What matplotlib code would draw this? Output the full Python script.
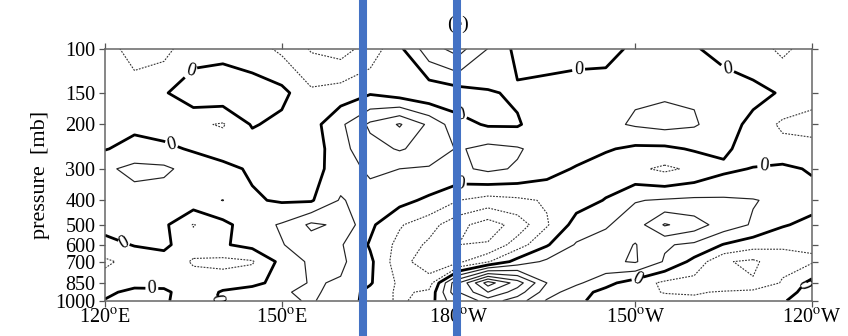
import numpy as np
import matplotlib
matplotlib.use("Agg")
import matplotlib.pyplot as plt

plt.rcParams['font.family'] = ['Liberation Serif', 'DejaVu Serif']
plt.rcParams['mathtext.fontset'] = 'stix'

# Grid: longitude (degrees east, 120E..120W) and pressure levels (mb)
lons = [120, 125, 130, 135, 140, 145, 150, 155, 160, 165, 170, 175, 180,
        185, 190, 195, 200, 205, 210, 215, 220, 225, 230, 235, 240]
levels_mb = [100, 150, 200, 250, 300, 400, 500, 600, 700, 850, 925, 1000]

# Field values (in contour-interval units) at each pressure level
f100 = [-0.6, -1.4, -1.3, -0.4, -0.3, -0.6, -1.2, -2.1, -2.4, -1.6, -0.2, 1.6, 2.4,
        1.0, -0.3, -0.6, -0.6, -0.5, 0.3, 0.6, 0.1, -0.4, -0.6, -1.2, -0.6]
f150 = [-0.5, -0.5, -0.1, 0.6, 0.7, 0.6, 0.3, -0.8, -0.5, -0.1, -0.5, -0.8, -0.5,
        -0.1, 0.15, 0.5, 0.8, 0.8, 0.9, 0.9, 0.9, 0.7, 0.3, -0.1, -0.7]
f200 = [-0.4, -0.2, -0.4, -0.8, -1.1, 0.1, -0.3, -0.4, 0.8, 2.2, 3.1, 1.8, 0.3,
        -0.1, -0.1, 0.6, 0.7, 0.8, 1.1, 1.3, 1.1, 0.5, -0.3, -1.2, -1.3]
f250 = [-0.05, 0.3, 0.2, -0.1, -0.3, -0.6, -0.7, -0.6, 0.7, 1.6, 2.1, 1.6, 0.9,
        1.3, 1.1, 0.6, 0.5, 0.1, -0.2, -0.2, 0.1, 0.2, -0.5, -0.6, -0.7]
f300 = [0.8, 1.3, 1.2, 0.6, 0.2, -0.1, -0.6, -0.4, 0.5, 1.2, 1.0, 0.9, 0.8,
        1.2, 0.9, 0.4, -0.1, -0.5, -0.8, -1.2, -0.8, -0.2, 0.05, 0.2, -0.1]
f400 = [0.6, 0.5, 0.4, 0.6, 1.02, 0.1, -0.1, -0.1, 1.1, 0.5, 0.3, -0.2, -1.0,
        -1.4, -1.2, -0.9, -0.4, 0.05, 0.95, 1.1, 1.2, 1.15, 1.05, 0.8, 0.4]
f500 = [0.3, 0.4, 0.2, -1.05, -0.3, 0.6, 1.1, 2.2, 1.8, 0.2, -0.9, -1.6, -2.7,
        -3.5, -2.6, -1.1, 0.4, 0.9, 1.5, 3.1, 2.5, 1.5, 0.9, 0.1, -0.3]
f600 = [-0.3, 0.05, 0.2, -0.6, -0.1, 0.3, 0.95, 1.5, 1.1, -0.1, -1.3, -2.2, -3.0,
        -2.9, -1.5, -0.1, 1.1, 1.4, 2.05, 1.1, 0.8, -0.05, -0.6, -0.9, -0.9]
f700 = [-1.2, -0.6, -0.4, -1.1, -1.3, -1.1, 0.3, 1.2, 1.2, 0.2, -1.6, -2.6, -2.2,
        -1.1, 0.4, 1.2, 1.4, 1.8, 2.1, 0.9, -0.3, -1.9, -2.2, -1.3, -1.1]
f850 = [-0.5, -0.3, -0.3, -0.6, -0.4, -0.3, 0.4, 1.1, 0.9, 0.1, -1.2, -1.5, 3.0,
        6.5, 4.5, 2.0, 1.2, 0.3, -0.5, -1.2, -1.4, -1.8, -1.9, -0.9, 0.3]
f925 = [-0.2, 0.25, 0.2, -0.6, 0.1, 0.5, 0.9, 1.2, 0.6, -0.3, -1.2, -0.8, 3.0,
        5.0, 3.5, 1.5, 0.4, -0.3, -0.7, -1.05, -1.1, -0.9, -0.7, -0.4, 0.4]
f1000 = [0.05, 0.5, 0.15, -0.6, 0.2, 0.6, 0.8, 1.1, 0.5, -0.3, -1.2, -0.5, 2.0,
         3.5, 2.5, 0.9, 0.2, -0.4, -0.6, -0.7, -0.8, -0.7, -0.5, -0.1, 0.6]

field = np.array([f100, f150, f200, f250, f300, f400, f500, f600, f700,
                  f850, f925, f1000])

# Axis annotation
xtick_vals = [120, 150, 180, 210, 240]
xtick_labels = [r'120$^{\mathrm{o}}$E', r'150$^{\mathrm{o}}$E', r'180$^{\mathrm{o}}$W',
                r'150$^{\mathrm{o}}$W', r'120$^{\mathrm{o}}$W']
ytick_vals = [100, 150, 200, 300, 400, 500, 600, 700, 850, 1000]
ytick_labels = [str(v) for v in ytick_vals]

# Longitudes of the two highlighted meridians
marker_lons = [163.8, 179.8]

# Where the zero contours carry their "0" labels (lon, mb)
zero_label_pos = [(123.4, 581), (131.4, 229), (134.7, 131), (127.9, 922),
                  (137.3, 975), (180.3, 186), (180.3, 343), (200.4, 132),
                  (225.7, 117), (231.8, 289), (210.5, 822), (237.4, 855)]

fig = plt.figure(figsize=(8.48, 3.36), dpi=100)
ax = fig.add_axes([105 / 848, (336 - 300.7) / 336, (812 - 105) / 848, (300.7 - 48.5) / 336])

LON, P = np.meshgrid(lons, levels_mb)

ax.contour(LON, P, field, levels=[-4, -3, -2, -1], colors='#333333',
           linewidths=0.8, linestyles=[(0, (1.6, 1.2))])
ax.contour(LON, P, field, levels=[1, 2, 3, 4, 5, 6, 7], colors='#222222',
           linewidths=0.85, linestyles='solid')
cz = ax.contour(LON, P, field, levels=[0], colors='black',
                linewidths=2.0, linestyles='solid')
ax.clabel(cz, fmt={0: '0'}, fontsize=13, inline=True, inline_spacing=2,
          manual=zero_label_pos)

ax.set_yscale('log')
ax.set_ylim(1000, 100)
ax.set_xlim(120, 240)
ax.set_yticks(ytick_vals)
ax.set_yticklabels(ytick_labels)
ax.yaxis.set_minor_locator(matplotlib.ticker.NullLocator())
ax.set_xticks(xtick_vals)
ax.set_xticklabels(xtick_labels)

ax.tick_params(axis='both', which='major', direction='out', length=4, width=0.9,
               color='#555555', labelsize=14.5, top=True, right=True)
ax.tick_params(axis='y', pad=3)
ax.tick_params(axis='x', pad=2)
for s in ax.spines.values():
    s.set_color('#666666')
    s.set_linewidth(1.1)

ax.set_ylabel('pressure  [mb]', fontsize=16, labelpad=4)
ax.set_title('(e)', fontsize=14, pad=14)

for lon in marker_lons:
    ax.axvline(lon, ymin=-0.3, ymax=1.4, color='#4472C4', linewidth=5.8,
               clip_on=False, zorder=10)

fig.savefig('out.png', dpi=100, facecolor='white')
